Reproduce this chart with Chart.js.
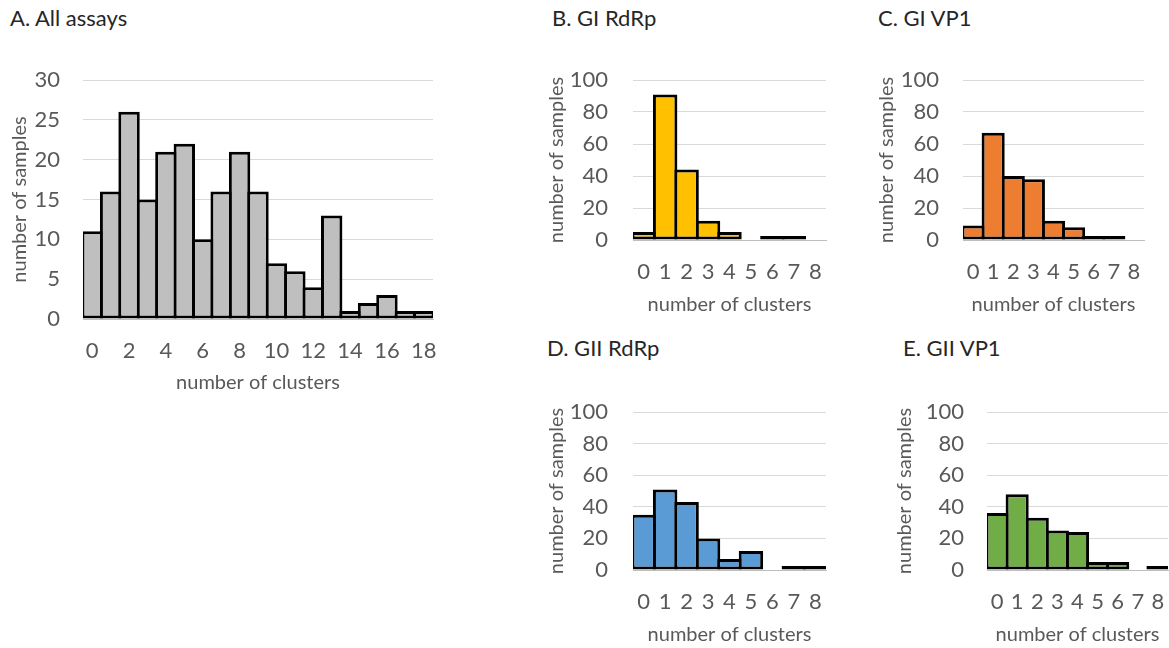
<!DOCTYPE html>
<html>
<head>
<meta charset="utf-8">
<script src="https://cdn.jsdelivr.net/npm/chart.js@4/dist/chart.umd.min.js"></script>
<style>
  html, body { margin: 0; padding: 0; background: #ffffff; }
  body { position: relative; width: 1169px; height: 648px; overflow: hidden; font-family: Lato, "Open Sans", sans-serif; }
  .panel-title { position: absolute; font-size: 22px; color: #262626; white-space: nowrap; line-height: 26px; }
  canvas { position: absolute; }
</style>
</head>
<body>
<div class="panel-title" style="left:10px; top:5px;">A. All assays</div>
<div class="panel-title" style="left:552px; top:5px;">B. GI RdRp</div>
<div class="panel-title" style="left:878px; top:5px;">C. GI VP1</div>
<div class="panel-title" style="left:547px; top:335px;">D. GII RdRp</div>
<div class="panel-title" style="left:903px; top:335px;">E. GII VP1</div>

<canvas id="chartA"></canvas>
<canvas id="chartB"></canvas>
<canvas id="chartC"></canvas>
<canvas id="chartD"></canvas>
<canvas id="chartE"></canvas>

<script>
// Number of clusters found per sample (x categories)
const clustersAll = ['0','1','2','3','4','5','6','7','8','9','10','11','12','13','14','15','16','17','18'];
const clustersAssay = ['0','1','2','3','4','5','6','7','8'];

// Number of samples for each cluster count
const samplesAll      = [11, 16, 26, 15, 21, 22, 10, 16, 21, 16, 7, 6, 4, 13, 1, 2, 3, 1, 1];
const samplesGIRdRp   = [5, 91, 44, 12, 5, 0, 1, 1, 0];
const samplesGIVP1    = [9, 67, 40, 38, 12, 8, 1, 1, 0];
const samplesGIIRdRp  = [35, 51, 43, 20, 7, 12, 0, 2, 1];
const samplesGIIVP1   = [36, 48, 33, 25, 24, 5, 5, 0, 1];

// Value-axis tick marks
const yTicksAll   = [0, 5, 10, 15, 20, 25, 30];
const yTicksAssay = [0, 20, 40, 60, 80, 100];

// Colours
const fillAll     = '#bfbfbf';
const fillGIRdRp  = '#ffc000';
const fillGIVP1   = '#ed7d31';
const fillGIIRdRp = '#5b9bd5';
const fillGIIVP1  = '#70ad47';

const TEXT_GREY = '#595959';
const GRID_GREY = '#d9d9d9';
const AXIS_GREY = '#bfbfbf';
const CLEAR = 'rgba(0,0,0,0)';
const EDGE = 3;

function makeHistogram(spec) {
  const canvas = document.getElementById(spec.id);
  canvas.width = spec.w;
  canvas.height = spec.h;
  canvas.style.left = spec.left + 'px';
  canvas.style.top = spec.top + 'px';
  canvas.style.width = spec.w + 'px';
  canvas.style.height = spec.h + 'px';

  // Bars are widened by one edge thickness so neighbouring outlines share a single stroke
  const band = spec.plotW / spec.labels.length;
  const barPct = 1 + EDGE / band;

  return new Chart(canvas, {
    type: 'bar',
    data: {
      labels: spec.labels,
      datasets: [{
        // empty bins are left out so they draw nothing at all
        data: spec.values.map(v => (v === 0 ? null : v)),
        backgroundColor: spec.fill,
        borderColor: '#000000',
        borderWidth: EDGE,
        borderSkipped: false,
        inflateAmount: 0,
        minBarLength: 4,
        categoryPercentage: 1,
        barPercentage: barPct
      }]
    },
    options: {
      responsive: false,
      animation: false,
      devicePixelRatio: 1,
      layout: { padding: { left: 0, top: spec.padTop, right: spec.padRight, bottom: 0 } },
      plugins: { legend: { display: false }, tooltip: { enabled: false } },
      scales: {
        x: {
          // invisible tick marks push the labels away from the axis line
          grid: { display: true, drawOnChartArea: false, drawTicks: true, tickLength: spec.xTickGap, tickColor: CLEAR },
          border: { display: true, color: AXIS_GREY, width: 1 },
          ticks: {
            autoSkip: false,
            maxRotation: 0,
            minRotation: 0,
            padding: 0,
            color: TEXT_GREY,
            font: { family: 'Lato', size: 22 },
            callback: function (value, index) {
              return index % spec.labelEvery === 0 ? spec.labels[index] : '';
            }
          },
          title: {
            display: true,
            text: 'number of clusters',
            color: TEXT_GREY,
            font: { family: 'Lato', size: 20 },
            padding: { top: 0, bottom: spec.xTitlePad }
          },
          afterFit: function (scale) { scale.height = spec.xHeight; }
        },
        y: {
          min: spec.yTicks[0],
          max: spec.yTicks[spec.yTicks.length - 1],
          grid: { color: GRID_GREY, lineWidth: 1, drawTicks: true, tickLength: spec.yTickGap, tickColor: CLEAR },
          border: { display: false },
          ticks: {
            autoSkip: false,
            padding: 0,
            color: TEXT_GREY,
            font: { family: 'Lato', size: 22 }
          },
          afterBuildTicks: function (scale) {
            scale.ticks = spec.yTicks.map(v => ({ value: v }));
          },
          title: {
            display: true,
            text: 'number of samples',
            color: TEXT_GREY,
            font: { family: 'Lato', size: 20 },
            padding: { top: spec.yTitlePad, bottom: 0 }
          },
          afterFit: function (scale) { scale.width = spec.yWidth; }
        }
      }
    }
  });
}

makeHistogram({
  id: 'chartA', left: 0, top: 60, w: 445, h: 340,
  padTop: 20, padRight: 12, yWidth: 83, xHeight: 81, plotW: 350,
  yTitlePad: 8, yTickGap: 23, xTickGap: 19, xTitlePad: 5,
  labels: clustersAll, values: samplesAll, fill: fillAll,
  yTicks: yTicksAll, labelEvery: 2
});

makeHistogram({
  id: 'chartB', left: 540, top: 60, w: 300, h: 260,
  padTop: 20, padRight: 14, yWidth: 93, xHeight: 80, plotW: 193,
  yTitlePad: 5, yTickGap: 25, xTickGap: 19, xTitlePad: 3,
  labels: clustersAssay, values: samplesGIRdRp, fill: fillGIRdRp,
  yTicks: yTicksAssay, labelEvery: 1
});

makeHistogram({
  id: 'chartC', left: 870, top: 60, w: 299, h: 260,
  padTop: 20, padRight: 25, yWidth: 93, xHeight: 80, plotW: 181,
  yTitlePad: 5, yTickGap: 24, xTickGap: 19, xTitlePad: 3,
  labels: clustersAssay, values: samplesGIVP1, fill: fillGIVP1,
  yTicks: yTicksAssay, labelEvery: 1
});

makeHistogram({
  id: 'chartD', left: 540, top: 390, w: 300, h: 258,
  padTop: 22, padRight: 14, yWidth: 93, xHeight: 78, plotW: 193,
  yTitlePad: 5, yTickGap: 25, xTickGap: 19, xTitlePad: 1,
  labels: clustersAssay, values: samplesGIIRdRp, fill: fillGIIRdRp,
  yTicks: yTicksAssay, labelEvery: 1
});

makeHistogram({
  id: 'chartE', left: 870, top: 390, w: 299, h: 258,
  padTop: 22, padRight: 1, yWidth: 117, xHeight: 78, plotW: 181,
  yTitlePad: 23, yTickGap: 23, xTickGap: 19, xTitlePad: 1,
  labels: clustersAssay, values: samplesGIIVP1, fill: fillGIIVP1,
  yTicks: yTicksAssay, labelEvery: 1
});
</script>
</body>
</html>
